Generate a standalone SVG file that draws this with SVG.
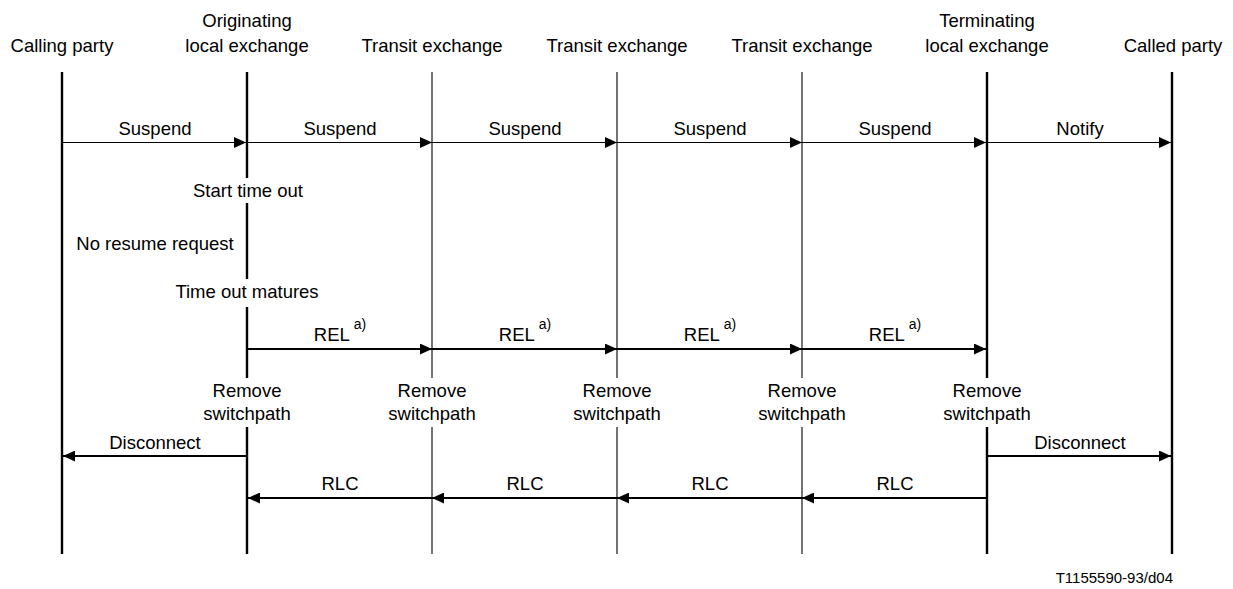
<svg xmlns="http://www.w3.org/2000/svg" width="1233" height="589" viewBox="0 0 1233 589">
<style>
text{font-family:"Liberation Sans",Arial,sans-serif;font-size:18.5px;fill:#000}
.c{text-anchor:middle}
.thick{stroke:#000;stroke-width:2.4;fill:none}
.thin{stroke:#000;stroke-width:1.1;fill:none}
.m1{stroke:#000;stroke-width:1.1;fill:none;marker-end:url(#ah)}
.m2{stroke:#000;stroke-width:2;fill:none;marker-end:url(#ah)}
.sup{font-size:14px}
.mask{fill:#fff}
</style>
<defs>
<marker id="ah" markerUnits="userSpaceOnUse" markerWidth="12" markerHeight="11" refX="12" refY="5.5" orient="auto">
<path d="M0,0 L12,5.5 L0,11 z" fill="#000"/>
</marker>
</defs>
<rect width="1233" height="589" fill="#fff"/>

<g id="calling-party">
<text class="c" x="62" y="52">Calling party</text>
<line class="thick" x1="62" y1="72" x2="62" y2="554"/>
</g>
<g id="originating-exchange">
<text class="c" x="247" y="27">Originating</text>
<text class="c" x="247" y="52">local exchange</text>
<line class="thick" x1="247" y1="72" x2="247" y2="554"/>
</g>
<g id="transit-1">
<text class="c" x="432" y="52">Transit exchange</text>
<line class="thin" x1="432" y1="72" x2="432" y2="554"/>
</g>
<g id="transit-2">
<text class="c" x="617" y="52">Transit exchange</text>
<line class="thin" x1="617" y1="72" x2="617" y2="554"/>
</g>
<g id="transit-3">
<text class="c" x="802" y="52">Transit exchange</text>
<line class="thin" x1="802" y1="72" x2="802" y2="554"/>
</g>
<g id="terminating-exchange">
<text class="c" x="987" y="27">Terminating</text>
<text class="c" x="987" y="52">local exchange</text>
<line class="thick" x1="987" y1="72" x2="987" y2="554"/>
</g>
<g id="called-party">
<text class="c" x="1173" y="52">Called party</text>
<line class="thick" x1="1172" y1="72" x2="1172" y2="554"/>
</g>

<g id="annotations">
<rect class="mask" x="190" y="178" width="116" height="25"/>
<text class="c" x="248" y="197">Start time out</text>
<text class="c" x="155" y="250">No resume request</text>
<rect class="mask" x="172" y="279" width="151" height="28"/>
<text class="c" x="247" y="298">Time out matures</text>
<rect class="mask" x="202" y="378" width="90" height="49"/>
<text class="c" x="247" y="397">Remove</text>
<text class="c" x="247" y="420">switchpath</text>
<rect class="mask" x="387" y="378" width="90" height="49"/>
<text class="c" x="432" y="397">Remove</text>
<text class="c" x="432" y="420">switchpath</text>
<rect class="mask" x="572" y="378" width="90" height="49"/>
<text class="c" x="617" y="397">Remove</text>
<text class="c" x="617" y="420">switchpath</text>
<rect class="mask" x="757" y="378" width="90" height="49"/>
<text class="c" x="802" y="397">Remove</text>
<text class="c" x="802" y="420">switchpath</text>
<rect class="mask" x="942" y="378" width="90" height="49"/>
<text class="c" x="987" y="397">Remove</text>
<text class="c" x="987" y="420">switchpath</text>
<text x="1173" y="583" style="text-anchor:end;font-size:15px">T1155590-93/d04</text>
</g>

<g id="connectors">
<line class="m1" x1="62" y1="142.5" x2="246" y2="142.5"/>
<line class="m1" x1="247" y1="142.5" x2="432" y2="142.5"/>
<line class="m1" x1="432" y1="142.5" x2="617" y2="142.5"/>
<line class="m1" x1="617" y1="142.5" x2="802" y2="142.5"/>
<line class="m1" x1="802" y1="142.5" x2="986" y2="142.5"/>
<line class="m1" x1="987" y1="142.5" x2="1171" y2="142.5"/>
<text class="c" x="155" y="135">Suspend</text>
<text class="c" x="340" y="135">Suspend</text>
<text class="c" x="525" y="135">Suspend</text>
<text class="c" x="710" y="135">Suspend</text>
<text class="c" x="895" y="135">Suspend</text>
<text class="c" x="1080" y="135">Notify</text>

<line class="m2" x1="247" y1="349" x2="432" y2="349"/>
<line class="m2" x1="432" y1="349" x2="617" y2="349"/>
<line class="m2" x1="617" y1="349" x2="802" y2="349"/>
<line class="m2" x1="802" y1="349" x2="986" y2="349"/>
<text class="c" x="340" y="341">REL<tspan class="sup" dx="4" dy="-12">a)</tspan></text>
<text class="c" x="525" y="341">REL<tspan class="sup" dx="4" dy="-12">a)</tspan></text>
<text class="c" x="710" y="341">REL<tspan class="sup" dx="4" dy="-12">a)</tspan></text>
<text class="c" x="895" y="341">REL<tspan class="sup" dx="4" dy="-12">a)</tspan></text>

<line class="m2" x1="247" y1="456" x2="63" y2="456"/>
<line class="m2" x1="987" y1="456" x2="1171" y2="456"/>
<text class="c" x="155" y="449">Disconnect</text>
<text class="c" x="1080" y="449">Disconnect</text>

<line class="m2" x1="987" y1="498" x2="802" y2="498"/>
<line class="m2" x1="802" y1="498" x2="617" y2="498"/>
<line class="m2" x1="617" y1="498" x2="432" y2="498"/>
<line class="m2" x1="432" y1="498" x2="248" y2="498"/>
<text class="c" x="895" y="490">RLC</text>
<text class="c" x="710" y="490">RLC</text>
<text class="c" x="525" y="490">RLC</text>
<text class="c" x="340" y="490">RLC</text>
</g>
</svg>
